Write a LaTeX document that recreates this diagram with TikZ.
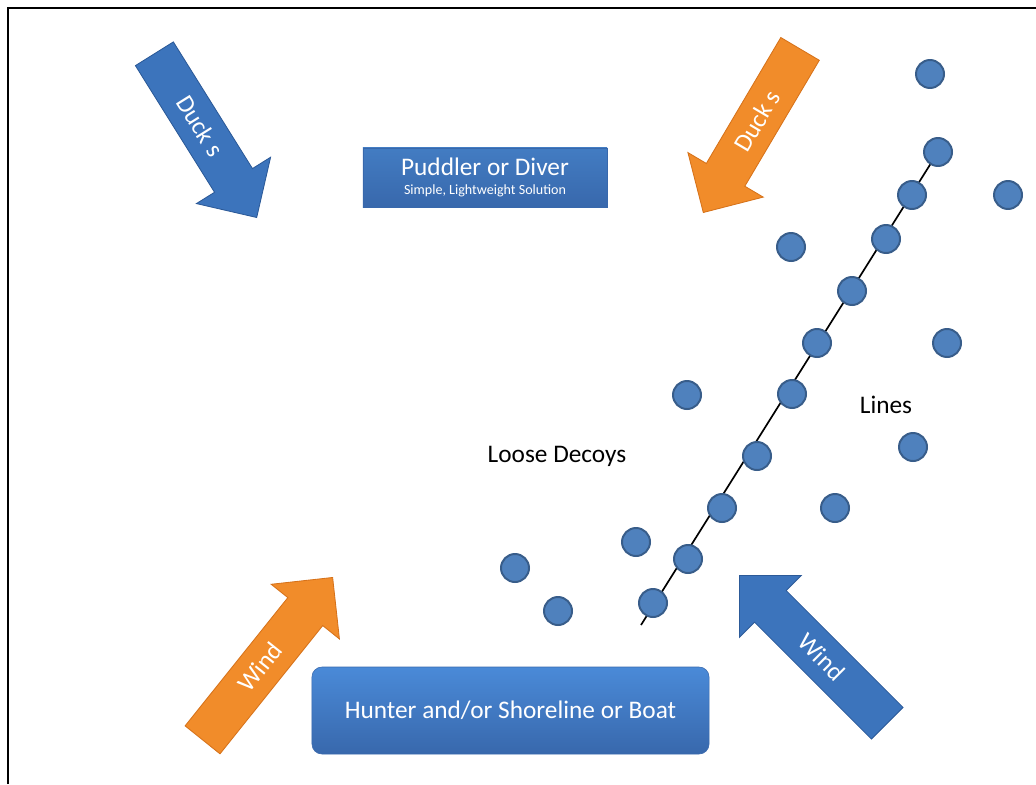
\documentclass[tikz,border=0pt]{standalone}
\usepackage{fontspec}
\setmainfont{Carlito}
\usetikzlibrary{shapes.arrows}

\begin{document}
\begin{tikzpicture}[x=0.025cm,y=-0.025cm,
    decoy/.style={circle,fill=decoyblue,draw=decoyedge,line width=1.4pt,minimum size=0.7cm,inner sep=0pt},
    bigarrow/.style={single arrow,single arrow head extend=15.2pt,single arrow tip angle=90,
        inner ysep=0pt,text height=21.4pt,text depth=9.8pt,text=white,line width=0.6pt,
        font=\fontsize{18}{21}\selectfont,anchor=tip},
    plaintext/.style={font=\fontsize{18}{21}\selectfont}]
            \definecolor{decoyblue}{RGB}{79,129,189}
            \definecolor{decoyedge}{RGB}{56,93,138}
            \definecolor{arrowblue}{RGB}{60,116,188}
            \definecolor{arrowblueedge}{RGB}{44,90,152}
            \definecolor{arroworange}{RGB}{241,140,42}
            \definecolor{arroworangeedge}{RGB}{214,114,26}
            \definecolor{boxlight}{RGB}{74,138,216}
            \definecolor{boxdark}{RGB}{56,104,172}

            \useasboundingbox (0,0) rectangle (1036,784);
            \draw[line width=1.2pt] (8,784) -- (8,8) -- (1036,8);

            % boxes
            \node[draw=boxdark, top color=boxlight!90!black, bottom color=boxdark, text=white, align=center,
                  minimum width=6.1cm, minimum height=1.475cm, font=\fontsize{18}{14}\selectfont]
                  (puddler) at (485,177.5) {Puddler or Diver\\{\fontsize{10}{12}\selectfont Simple, Lightweight Solution}};
            \node[draw=boxdark, rounded corners=0.25cm, top color=boxlight, bottom color=boxdark, text=white,
                  minimum width=9.925cm, minimum height=2.175cm, font=\fontsize{18}{21}\selectfont]
                  (hunter) at (510.5,710.5) {Hunter and/or Shoreline or Boat};

            % arrows
            \node[bigarrow, fill=arrowblue, draw=arrowblueedge, rotate=-58, minimum height=4.825cm] (ducksleft) at (257,218) {Duck s};
            \node[bigarrow, fill=arroworange, draw=arroworangeedge, rotate=59.4, shape border rotate=180, minimum height=4.75cm] (ducksright) at (703,213) {Duck s};
            \node[bigarrow, fill=arroworange, draw=arroworangeedge, rotate=51.3, minimum height=5.2cm] (windleft) at (333,577) {Wind};
            \node[bigarrow, fill=arrowblue, draw=arrowblueedge, rotate=-45, shape border rotate=180, minimum height=5.225cm] (windright) at (739,575) {Wind};

            % line of decoys
            \coordinate (lineend) at (641,625);
            \coordinate (linetop) at (938,152);
            \draw[line width=1.2pt] (lineend) -- (linetop);
            \foreach \x/\y [count=\i] in {653/603, 688/559, 722/508, 757/456, 792/394, 817/343, 852/291, 886/239, 912/195, 938/152}
                \node[decoy] (line\i) at (\x,\y) {};

            % loose decoys
            \foreach \x/\y [count=\i] in {930/74, 1008/195, 791/247, 947/343, 687/395, 913/447, 835/508, 636/542, 515/568, 558/611}
                \node[decoy] (loose\i) at (\x,\y) {};

            \node[plaintext] (loosetext) at (557,456) {Loose Decoys};
            \node[plaintext] (linestext) at (886,405) {Lines};
        \end{tikzpicture}
\end{document}
